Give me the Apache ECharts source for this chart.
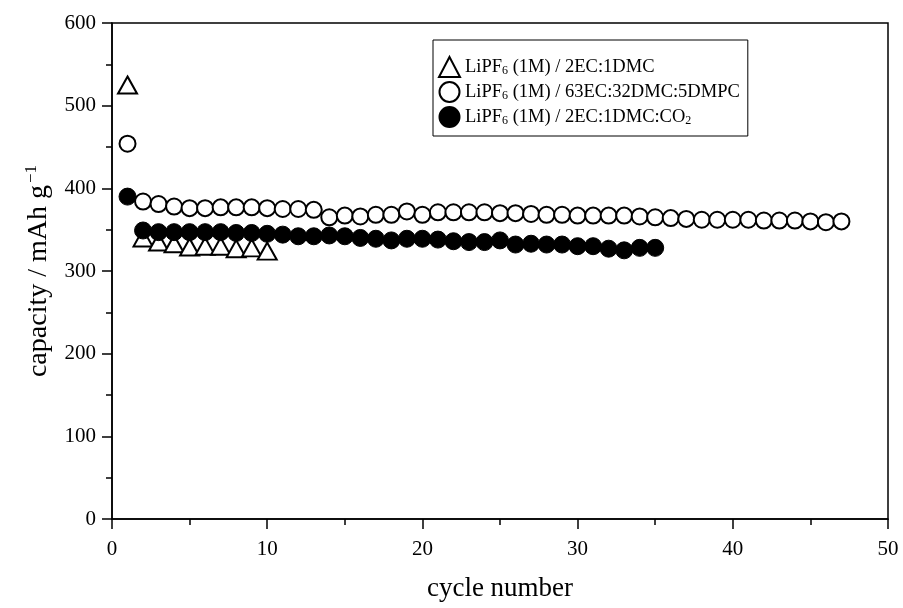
<!DOCTYPE html>
<html>
<head>
<meta charset="utf-8">
<script src="https://cdn.jsdelivr.net/npm/echarts@6/dist/echarts.min.js"></script>
<style>html,body{margin:0;padding:0;background:#fff}#c{width:903px;height:608px}</style>
</head>
<body>
<div id="c"></div>
<script>
// Series names (rich-text formatted in legend)
const seriesNames = ['LiPF6 (1M) / 2EC:1DMC', 'LiPF6 (1M) / 63EC:32DMC:5DMPC', 'LiPF6 (1M) / 2EC:1DMC:CO2'];
const legendLabels = ['LiPF{sub|6} (1M) / 2EC:1DMC', 'LiPF{sub|6} (1M) / 63EC:32DMC:5DMPC', 'LiPF{sub|6} (1M) / 2EC:1DMC:CO{sub|2}'];

// Cycle numbers
const cyclesA = [1,2,3,4,5,6,7,8,9,10];
const cyclesB = [1,2,3,4,5,6,7,8,9,10,11,12,13,14,15,16,17,18,19,20,21,22,23,24,25,26,27,28,29,30,31,32,33,34,35,36,37,38,39,40,41,42,43,44,45,46,47];
const cyclesC = [1,2,3,4,5,6,7,8,9,10,11,12,13,14,15,16,17,18,19,20,21,22,23,24,25,26,27,28,29,30,31,32,33,34,35];

// Capacities (mAh/g)
const capA = [525,340,335,333,329,330,330,327,328,324];
const capB = [454,384,381,378,376,376,377,377,377,376,375,375,374,365,367,366,368,368,372,368,371,371,371,371,370,370,369,368,368,367,367,367,367,366,365,364,363,362,362,362,362,361,361,361,360,359,360];
const capC = [390,349,347,347,347,347,347,346,346,345,344,342,342,343,342,340,339,337,339,339,338,336,335,335,337,332,333,332,332,330,330,327,325,328,328];

// Tick settings
const xMin = 0, xMax = 50, xInterval = 10;
const yMin = 0, yMax = 600, yInterval = 100;

function pairs(xs, ys){ return xs.map((x,i)=>[x, ys[i]]); }

const font = '"Liberation Serif", "Times New Roman", serif';
const chart = echarts.init(document.getElementById('c'), null, {renderer:'canvas'});
chart.setOption({
  animation: false,
  backgroundColor: '#fff',
  textStyle: {fontFamily: font, color: '#000'},
  grid: {left: 112, right: 15, top: 23, bottom: 89, show: true, borderColor: '#000', borderWidth: 1.5, backgroundColor: 'transparent'},
  legend: {
    left: 433, top: 40, orient: 'vertical',
    borderColor: '#000', borderWidth: 1, padding: [16, 8, 8, 5],
    itemGap: 3, itemWidth: 21, itemHeight: 20,
    data: seriesNames,
    formatter: function(name){ return legendLabels[seriesNames.indexOf(name)]; },
    textStyle: {
      fontFamily: font, fontSize: 18.5, color: '#000', lineHeight: 20,
      rich: {sub: {fontFamily: font, fontSize: 12, color: '#000', verticalAlign: 'bottom', lineHeight: 20, padding: [9,0,0,0]}}
    }
  },
  xAxis: {
    type: 'value', min: xMin, max: xMax, interval: xInterval,
    name: 'cycle number', nameLocation: 'middle', nameGap: 56,
    nameTextStyle: {fontFamily: font, fontSize: 27, color: '#000'},
    axisLine: {lineStyle: {color: '#000', width: 1.5}},
    axisTick: {inside: false, length: 10, lineStyle: {color: '#000', width: 1.5}},
    minorTick: {show: true, splitNumber: 2, length: 6, lineStyle: {color: '#000', width: 1.5}},
    axisLabel: {fontFamily: font, fontSize: 21, color: '#000', margin: 20},
    splitLine: {show: false}
  },
  yAxis: {
    type: 'value', min: yMin, max: yMax, interval: yInterval,
    name: 'capacity / mAh g{sup|−1}', nameLocation: 'middle', nameGap: 58, nameRotate: 90,
    nameTextStyle: {fontFamily: font, fontSize: 28, color: '#000',
      rich: {sup: {fontFamily: font, fontSize: 17, color: '#000', verticalAlign: 'top', padding: [0,0,14,2]}}},
    axisLine: {lineStyle: {color: '#000', width: 1.5}},
    axisTick: {inside: false, length: 10, lineStyle: {color: '#000', width: 1.5}},
    minorTick: {show: true, splitNumber: 2, length: 6, lineStyle: {color: '#000', width: 1.5}},
    axisLabel: {fontFamily: font, fontSize: 21, color: '#000', margin: 16},
    splitLine: {show: false}
  },
  series: [
    {name: seriesNames[0], type: 'scatter', data: pairs(cyclesA, capA), symbol: 'triangle', symbolSize: [19,17],
     itemStyle: {color: '#fff', borderColor: '#000', borderWidth: 2, opacity: 1}},
    {name: seriesNames[1], type: 'scatter', data: pairs(cyclesB, capB), symbol: 'circle', symbolSize: 16,
     itemStyle: {color: '#fff', borderColor: '#000', borderWidth: 2, opacity: 1}},
    {name: seriesNames[2], type: 'scatter', data: pairs(cyclesC, capC), symbol: 'circle', symbolSize: 17,
     itemStyle: {color: '#000', borderColor: '#000', borderWidth: 1, opacity: 1}}
  ]
});
</script>
</body>
</html>
